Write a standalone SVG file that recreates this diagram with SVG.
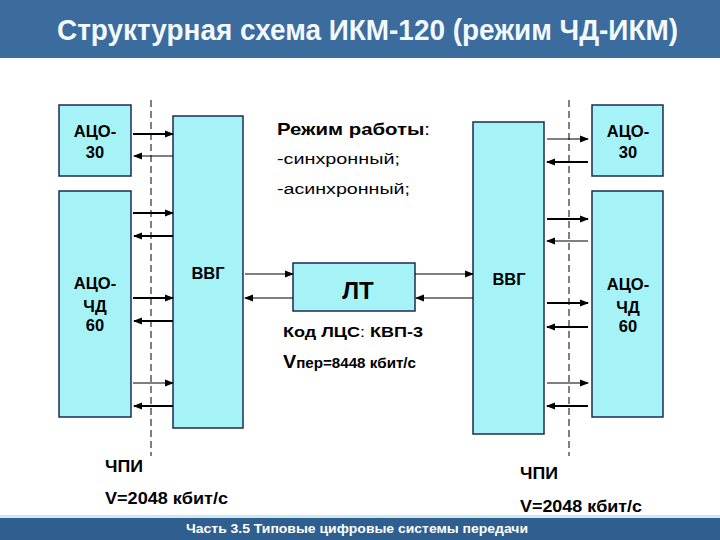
<svg xmlns="http://www.w3.org/2000/svg" width="720" height="540" viewBox="0 0 720 540">
<defs>
<marker id="ah" markerUnits="userSpaceOnUse" markerWidth="9" markerHeight="8" refX="8" refY="4" orient="auto">
<path d="M0,0.5 L9,4 L0,7.5 Z" fill="#000"/>
</marker>
<style>
.box{fill:#a6f3f7;stroke:#1b2b55;stroke-width:1.5}
.lbl{font-family:"Liberation Sans",Arial,sans-serif;font-weight:bold;fill:#000;text-anchor:middle}
.txt{font-family:"Liberation Sans",Arial,sans-serif;fill:#000}
.thick{stroke:#000;stroke-width:2.2;fill:none;marker-end:url(#ah)}
.thin{stroke:#000;stroke-width:1.1;fill:none;marker-end:url(#ah)}
.dash{stroke:#000;stroke-width:1;stroke-dasharray:7,4;fill:none}
</style>
</defs>
<rect x="0" y="0" width="720" height="540" fill="#fff"/>
<rect x="0" y="0" width="720" height="58" fill="#3b6c9d"/>
<text x="57" y="40" class="txt" style="fill:#f2f9ff;font-size:29px;font-weight:bold" textLength="621" lengthAdjust="spacingAndGlyphs">Структурная схема ИКМ-120 (режим ЧД-ИКМ)</text>

<g id="dashes">
<line class="dash" x1="151" y1="100" x2="151" y2="456"/>
<line class="dash" x1="569" y1="100" x2="569" y2="456"/>
</g>

<g id="aco30-left"><rect class="box" x="59" y="105" width="72" height="71"/>
<text class="lbl" x="95" y="137" font-size="16.5">АЦО-</text><text class="lbl" x="95" y="158" font-size="16.5">30</text></g>
<g id="acochd-left"><rect class="box" x="59" y="191" width="72" height="226"/>
<text class="lbl" x="95" y="289" font-size="16.5">АЦО-</text><text class="lbl" x="95" y="312" font-size="16.5">ЧД</text><text class="lbl" x="95" y="331" font-size="16.5">60</text></g>
<g id="vvg-left"><rect class="box" x="173" y="116" width="70" height="312"/>
<text class="lbl" x="208" y="279" font-size="16.5">ВВГ</text></g>

<g id="lt"><rect class="box" x="293" y="263" width="122" height="48"/>
<text class="lbl" x="358" y="299" font-size="24">ЛТ</text></g>

<g id="vvg-right"><rect class="box" x="473" y="122" width="71" height="312"/>
<text class="lbl" x="509" y="285" font-size="16.5">ВВГ</text></g>
<g id="aco30-right"><rect class="box" x="592" y="105" width="71" height="71"/>
<text class="lbl" x="628" y="137" font-size="16.5">АЦО-</text><text class="lbl" x="628" y="158" font-size="16.5">30</text></g>
<g id="acochd-right"><rect class="box" x="592" y="191" width="71" height="226"/>
<text class="lbl" x="628" y="290" font-size="16.5">АЦО-</text><text class="lbl" x="628" y="313" font-size="16.5">ЧД</text><text class="lbl" x="628" y="332" font-size="16.5">60</text></g>

<g id="connectors">
<line class="thick" x1="133" y1="134" x2="173" y2="134"/>
<line class="thin" x1="173" y1="156" x2="134" y2="156"/>
<line class="thick" x1="133" y1="213" x2="173" y2="213"/>
<line class="thick" x1="173" y1="236" x2="134" y2="236"/>
<line class="thick" x1="133" y1="298" x2="173" y2="298"/>
<line class="thick" x1="173" y1="321" x2="134" y2="321"/>
<line class="thin" x1="133" y1="383" x2="173" y2="383"/>
<line class="thick" x1="173" y1="406" x2="134" y2="406"/>

<line class="thin" x1="245" y1="274" x2="293" y2="274"/>
<line class="thin" x1="293" y1="298" x2="245" y2="298"/>
<line class="thin" x1="415" y1="274" x2="473" y2="274"/>
<line class="thin" x1="473" y1="298" x2="416" y2="298"/>

<line class="thin" x1="547" y1="139" x2="588" y2="139"/>
<line class="thick" x1="588" y1="162" x2="547" y2="162"/>
<line class="thick" x1="547" y1="219" x2="588" y2="219"/>
<line class="thin" x1="588" y1="241" x2="547" y2="241"/>
<line class="thick" x1="547" y1="303" x2="588" y2="303"/>
<line class="thick" x1="588" y1="327" x2="547" y2="327"/>
<line class="thin" x1="547" y1="383" x2="588" y2="383"/>
<line class="thick" x1="588" y1="406" x2="547" y2="406"/>
</g>

<g id="texts">
<text class="txt" x="277" y="135" font-size="16.5" font-weight="bold" textLength="153" lengthAdjust="spacingAndGlyphs">Режим работы<tspan font-weight="normal">:</tspan></text>
<text class="txt" x="277" y="164" font-size="15.5" textLength="123" lengthAdjust="spacingAndGlyphs">-синхронный;</text>
<text class="txt" x="277" y="194" font-size="15.5" textLength="133" lengthAdjust="spacingAndGlyphs">-асинхронный;</text>
<text class="txt" x="283" y="337" font-size="15.5" font-weight="bold" textLength="140" lengthAdjust="spacingAndGlyphs">Код ЛЦС<tspan font-weight="normal">:</tspan> КВП-3</text>
<text class="txt" x="283" y="368" font-weight="bold" textLength="133" lengthAdjust="spacingAndGlyphs"><tspan font-size="19">V</tspan><tspan font-size="14.5">пер=8448 кбит/с</tspan></text>
<text class="txt" x="105" y="472" font-size="17" font-weight="bold" textLength="38" lengthAdjust="spacingAndGlyphs">ЧПИ</text>
<text class="txt" x="105" y="504" font-size="17" font-weight="bold" textLength="123" lengthAdjust="spacingAndGlyphs">V=2048 кбит/с</text>
<text class="txt" x="520" y="479" font-size="17" font-weight="bold" textLength="38" lengthAdjust="spacingAndGlyphs">ЧПИ</text>
<text class="txt" x="520" y="512" font-size="17" font-weight="bold" textLength="122" lengthAdjust="spacingAndGlyphs">V=2048 кбит/с</text>
</g>

<rect x="0" y="515" width="720" height="3" fill="#cfe6f3"/>
<rect x="0" y="518" width="720" height="22" fill="#2f5f8f"/>
<text x="186" y="533" class="txt" style="fill:#fff;font-size:13px;font-weight:bold" textLength="342" lengthAdjust="spacingAndGlyphs">Часть 3.5 Типовые цифровые системы передачи</text>
</svg>
